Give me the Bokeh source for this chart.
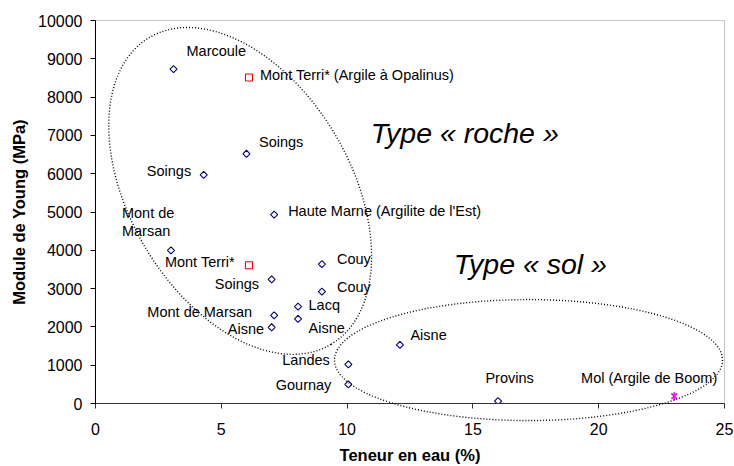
import numpy as np
from bokeh.plotting import figure
from bokeh.models import Range1d, ColumnDataSource, Label, FixedTicker
from bokeh.core.properties import value
from bokeh.embed import file_html
from bokeh.resources import INLINE

# ---------------- data ----------------
# Blue diamonds
names = ["Marcoule", "Soings", "Soings", "Haute Marne (Argilite de l'Est)",
         "Mont de\nMarsan", "Couy", "Soings", "Couy", "Lacq", "Mont de Marsan",
         "Aisne", "Aisne", "Landes", "Gournay", "Aisne", "Provins"]
water = [3.1, 6.0, 4.3, 7.1, 3.0, 9.0, 7.0, 9.0, 8.05, 7.1, 8.05, 7.0, 10.05, 10.05, 12.1, 16.0]
young = [8730, 6520, 5970, 4930, 4000, 3640, 3240, 2920, 2530, 2300, 2210, 1990, 1020, 500, 1530, 60]

# Red squares (Mont Terri)
mt_names = ["Mont Terri* (Argile à Opalinus)", "Mont Terri*"]
mt_water = [6.1, 6.1]
mt_young = [8510, 3610]

# Magenta star (Mol)
mol_names = ["Mol (Argile de Boom)"]
mol_water = [23.0]
mol_young = [190]

x_ticks = [0, 5, 10, 15, 20, 25]
y_ticks = [0, 1000, 2000, 3000, 4000, 5000, 6000, 7000, 8000, 9000, 10000]

# zones (ellipses) and their captions
zone_texts = ["Type « roche »", "Type « sol »"]
zone_text_x = [10.94, 14.24]
zone_text_y = [7066, 3651]
zone_cx = [5.75, 17.21]
zone_cy = [5550, 1134]

# ---------------- layout / style (label placement in screen px) ----------------
lab_dx = [13, 12.5, -12.5, 14, -49, 15, -12.5, 15, 10.5, -22, 10.5, -7.5, -18.5, -17, 10.5, 11.5]
lab_dy = [-18, -12, -4, -4, -28, -5.5, 4.5, -4.5, -2, -3.5, 9.5, 2, -4.5, 1, -9.5, -23]
lab_al = ["left", "left", "right", "left", "left", "left", "right", "left", "left", "right",
          "left", "right", "right", "right", "left", "center"]
mt_dx = [11, -14]
mt_dy = [-3, -3]
mt_al = ["left", "right"]
mol_dx = [-25]
mol_dy = [-18]
mol_al = ["center"]

zone_w = [356.6, 388]     # screen px
zone_h = [221, 121]
zone_angle = [-59.4 * np.pi / 180, 0.0]

FONT = "Liberation Sans"

p = figure(width=734, height=466, x_range=Range1d(0, 25), y_range=Range1d(0, 10000),
           output_backend="svg", toolbar_location=None,
           min_border_left=95, min_border_right=10, min_border_top=20, min_border_bottom=63)
p.background_fill_color = "white"
p.border_fill_color = "white"
p.outline_line_color = "#c8c8c8"
p.outline_line_width = 1
p.xgrid.visible = False
p.ygrid.visible = False

p.xaxis.ticker = FixedTicker(ticks=x_ticks)
p.yaxis.ticker = FixedTicker(ticks=y_ticks)
for ax in (p.xaxis, p.yaxis):
    ax.major_tick_in = 0
    ax.major_tick_out = 5
    ax.minor_tick_in = 0
    ax.minor_tick_out = 0
    ax.axis_line_color = "black"
    ax.major_tick_line_color = "black"
    ax.major_label_text_font = FONT
    ax.major_label_text_font_size = "16px"
    ax.major_label_text_color = "black"
    ax.axis_label_text_font = FONT
    ax.axis_label_text_font_size = "16.5px"
    ax.axis_label_text_font_style = "bold"
    ax.axis_label_text_color = "black"
p.xaxis.axis_line_color = "#333333"
p.xaxis.major_tick_line_color = "#333333"
p.xaxis.axis_label = "Teneur en eau (%)"
p.yaxis.axis_label = "Module de Young (MPa)"
p.xaxis.major_label_standoff = 14
p.xaxis.axis_label_standoff = 8
p.yaxis.major_label_standoff = 8
p.yaxis.axis_label_standoff = 7

# zones
zsrc = ColumnDataSource(dict(x=zone_cx, y=zone_cy, w=zone_w, h=zone_h, a=zone_angle))
zr = p.ellipse(x="x", y="y", width="w", height="h", angle="a", source=zsrc,
               width_units="screen", height_units="screen",
               fill_color=None, line_color="black", line_width=1.4, line_dash="1 2")
zr.level = "overlay"

for t, tx, ty in zip(zone_texts, zone_text_x, zone_text_y):
    p.add_layout(Label(x=tx, y=ty, text=t, text_font=FONT, text_font_size="28.5px",
                       text_font_style="italic", text_baseline="middle", text_align="left",
                       text_color="black"))

# points
bsrc = ColumnDataSource(dict(x=water, y=young, name=names, dx=lab_dx, dy=lab_dy, al=lab_al))
p.scatter("x", "y", source=bsrc, marker="square", angle=np.pi / 4, size=5,
          fill_color=None, line_color="#000080", line_width=1.1)
msrc = ColumnDataSource(dict(x=mt_water, y=mt_young, name=mt_names, dx=mt_dx, dy=mt_dy, al=mt_al))
p.scatter("x", "y", source=msrc, marker="square", size=7,
          fill_color=None, line_color="#ff0000", line_width=1.1)
osrc = ColumnDataSource(dict(x=mol_water, y=mol_young, name=mol_names, dx=mol_dx, dy=mol_dy, al=mol_al))
p.scatter("x", "y", source=osrc, marker="x", size=8, line_color="#ff00ff", line_width=1.5)
p.scatter("x", "y", source=osrc, marker="dash", angle=np.pi / 2, size=8, line_color="#ff00ff", line_width=1.5)

for s in (bsrc, msrc, osrc):
    p.text(x="x", y="y", text="name", source=s, x_offset="dx", y_offset="dy",
           text_align="al", text_baseline="middle", text_font=value(FONT),
           text_font_size="14.5px", text_color="black", text_line_height=1.15)

open("out.html", "w").write(file_html(p, INLINE))
